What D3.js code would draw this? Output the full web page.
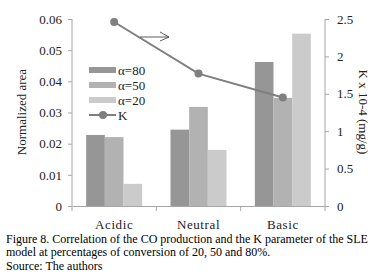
<!DOCTYPE html>
<html>
<head>
<meta charset="utf-8">
<script src="https://cdn.jsdelivr.net/npm/d3@7"></script>
<style>
  body { margin: 0; background: #fff; }
  svg { display: block; }
  svg text { font-family: "Liberation Serif", "DejaVu Serif", serif; }
</style>
</head>
<body>
<div id="chart"></div>
<script>
// data
const categories = ["Acidic", "Neutral", "Basic"];
const seriesNames = ["α=80", "α=50", "α=20"];
const alpha80 = [0.0228, 0.0245, 0.0462];
const alpha50 = [0.0221, 0.0318, 0.0347];
const alpha20 = [0.0071, 0.0180, 0.0553];
const kValues = [2.46, 1.77, 1.45];
const leftTicks = [0, 0.01, 0.02, 0.03, 0.04, 0.05, 0.06];
const rightTicks = [0, 0.5, 1, 1.5, 2, 2.5];
const captionLines = [
  "Figure 8. Correlation of the CO production and the K parameter of the SLE",
  "model at percentages of conversion of 20, 50 and 80%.",
  "Source: The authors"
];

const W = 389, H = 277;
const plotL = 72, plotR = 325, plotT = 19, plotB = 206;
const colors = ["#969696", "#b2b2b2", "#cbcbcb"];
const axisColor = "#a6a6a6";
const serif = "'Liberation Serif', serif";

const svg = d3.select("#chart").append("svg")
  .attr("width", W).attr("height", H)
  .attr("font-family", serif);

const x0 = d3.scaleBand().domain(categories).range([plotL, plotR]).padding(0);
const x1 = d3.scaleBand().domain(seriesNames).range([0, x0.bandwidth()])
  .paddingInner(0).paddingOuter(0.76);
const y = d3.scaleLinear().domain([0, 0.06]).range([plotB, plotT]);
const yK = d3.scaleLinear().domain([0, 2.5]).range([plotB, plotT]);

const rows = categories.map((c, i) => ({
  cat: c,
  vals: [alpha80[i], alpha50[i], alpha20[i]]
}));

// bars
const g = svg.selectAll(".grp").data(rows).enter().append("g")
  .attr("transform", d => "translate(" + x0(d.cat) + ",0)");
g.selectAll("rect")
  .data(d => d.vals.map((v, j) => ({ s: seriesNames[j], v: v, j: j })))
  .enter().append("rect")
  .attr("x", d => x1(d.s))
  .attr("width", x1.bandwidth())
  .attr("y", d => y(d.v))
  .attr("height", d => plotB - y(d.v))
  .attr("fill", d => colors[d.j]);

// axes
const leftAxis = svg.append("g").attr("transform", "translate(" + plotL + ",0)")
  .call(d3.axisLeft(y).tickValues(leftTicks).tickSize(4).tickPadding(6)
    .tickFormat(d => d === 0 ? "0" : d3.format(".2f")(d)));
const rightAxis = svg.append("g").attr("transform", "translate(" + plotR + ",0)")
  .call(d3.axisRight(yK).tickValues(rightTicks).tickSize(4).tickPadding(8)
    .tickFormat(d => String(d)));
const bottomAxis = svg.append("g").attr("transform", "translate(0," + plotB + ")")
  .call(d3.axisBottom(x0).tickSize(0).tickPadding(14));

[leftAxis, rightAxis, bottomAxis].forEach(a => {
  a.attr("font-family", serif).attr("font-size", 13);
  a.select(".domain").attr("stroke", axisColor);
  a.selectAll(".tick line").attr("stroke", axisColor);
  a.selectAll("text").attr("fill", "#222");
});
leftAxis.select(".domain").attr("d", "M0," + plotT + "V" + plotB);
rightAxis.select(".domain").attr("d", "M0," + plotT + "V" + plotB);
bottomAxis.selectAll("text").style("letter-spacing", "0.6px");

// category separator ticks
const seps = categories.map(c => x0(c)).concat([plotR]);
svg.selectAll(".sep").data(seps).enter().append("line")
  .attr("x1", d => d).attr("x2", d => d)
  .attr("y1", plotB).attr("y2", plotB + 5)
  .attr("stroke", axisColor);

// K line
const kPts = categories.map((c, i) => [x0(c) + x0.bandwidth() / 2, yK(kValues[i])]);
svg.append("path")
  .attr("d", d3.line()(kPts))
  .attr("fill", "none").attr("stroke", "#7f7f7f").attr("stroke-width", 2);
svg.selectAll(".kpt").data(kPts).enter().append("circle")
  .attr("cx", d => d[0]).attr("cy", d => d[1]).attr("r", 4)
  .attr("fill", "#7f7f7f");

// arrow pointing to right axis
const ay = 37;
svg.append("path")
  .attr("d", "M140," + ay + "H169 M160," + (ay - 5) + "L169," + ay + "L160," + (ay + 4))
  .attr("fill", "none").attr("stroke", "#333").attr("stroke-width", 0.8);

// legend
const lg = svg.append("g").attr("font-size", 13);
seriesNames.forEach((s, i) => {
  const cy = 70 + i * 15;
  lg.append("rect").attr("x", 89).attr("y", cy - 3).attr("width", 27).attr("height", 6)
    .attr("fill", colors[i]);
  lg.append("text").attr("x", 118).attr("y", cy + 4.5).text(s).attr("fill", "#222");
});
const ky = 70 + 3 * 15;
lg.append("line").attr("x1", 89).attr("x2", 116).attr("y1", ky).attr("y2", ky)
  .attr("stroke", "#7f7f7f").attr("stroke-width", 2);
lg.append("circle").attr("cx", 103).attr("cy", ky).attr("r", 4).attr("fill", "#7f7f7f");
lg.append("text").attr("x", 118).attr("y", ky + 4.5).text("K").attr("fill", "#222");

// axis titles
svg.append("text")
  .attr("transform", "translate(26,112) rotate(-90)")
  .attr("text-anchor", "middle").attr("font-size", 13).attr("fill", "#222")
  .text("Normalized area");
svg.append("text")
  .attr("transform", "translate(359,112) rotate(90)")
  .attr("text-anchor", "middle").attr("font-size", 13).attr("fill", "#222")
  .text("K x 10-4 (mg/g)");

// caption
svg.selectAll(".cap").data(captionLines).enter().append("text")
  .attr("x", 6).attr("y", (d, i) => 242.5 + i * 13.5)
  .attr("font-size", 12).attr("fill", "#000")
  .text(d => d);
</script>
</body>
</html>
